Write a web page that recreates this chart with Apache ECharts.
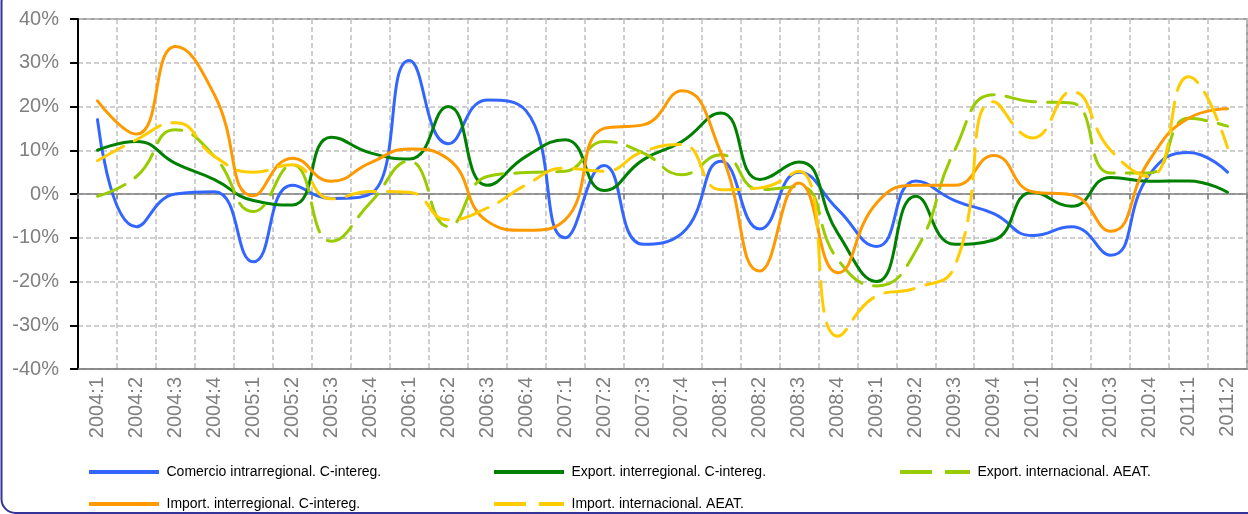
<!DOCTYPE html>
<html>
<head>
<meta charset="utf-8">
<script src="https://cdn.jsdelivr.net/npm/echarts@6/dist/echarts.min.js"></script>
<style>
html,body{margin:0;padding:0;background:#fff;}
#chart{width:1248px;height:514px;}
</style>
</head>
<body>
<div id="chart"></div>
<script>
var categories = ['2004:1','2004:2','2004:3','2004:4','2005:1','2005:2','2005:3','2005:4',
  '2006:1','2006:2','2006:3','2006:4','2007:1','2007:2','2007:3','2007:4',
  '2008:1','2008:2','2008:3','2008:4','2009:1','2009:2','2009:3','2009:4',
  '2010:1','2010:2','2010:3','2010:4','2011:1','2011:2'];

var comercioIntra = [17, -7.5, 0, 0.5, -15.5, 2, -1, 0, 30.5, 11.5, 21.5, 19, -10, 6.5, -11.5, -9, 7.5, -8, 5, -3.5, -12, 3, -1.5, -4.5, -9.5, -7.5, -14, 4.5, 9.5, 5];
var exportInter = [10, 12, 7, 3.3, -1.5, -2.5, 13, 9.4, 8, 20, 2, 8.6, 12.4, 0.8, 7.8, 12, 18.5, 3.3, 7.3, -9, -20, -0.5, -11.5, -10.5, 0.4, -2.8, 3.8, 2.9, 3, 0.4];
var exportIntl = [-0.5, 4, 14.7, 8.6, -4, 6.7, -10.8, -2, 7.5, -7.4, 4, 4.9, 5.2, 12, 9.4, 4.4, 9, 1, 1.7, -15, -21, -13, 10, 22.7, 21.1, 20.8, 4.8, 4.8, 17.3, 15.5];
var importInter = [21.3, 13.7, 33.7, 22.7, -0.4, 8.2, 2.9, 7.1, 10.3, 8, -6.2, -8.3, -5.9, 15, 15.8, 23.6, 9.4, -17.6, 2.5, -18, -2, 2, 2, 8.8, 0.5, -0.2, -8.5, 7.8, 17.3, 19.5];
var importIntl = [7.6, 12.4, 16.3, 8.6, 5, 6.7, -1.1, 0.6, 0.4, -5.9, -3.2, 2.1, 5.9, 5.2, 9.7, 11.3, 1, 1.4, 5.2, -32.5, -23.3, -21.5, -16.5, 21.1, 12.8, 23.4, 10, 4, 26.8, 10.6];

var seriesNames = ['Comercio intrarregional. C-intereg.', 'Export. interregional. C-intereg.',
  'Export. internacional. AEAT.', 'Import. interregional. C-intereg.', 'Import. internacional. AEAT.'];
var seriesData = [comercioIntra, exportInter, exportIntl, importInter, importIntl];
var seriesColors = ['#3366FF', '#008000', '#99CC00', '#FF9900', '#FFCC00'];
var seriesDashed = [false, false, true, false, true];

var chart = echarts.init(document.getElementById('chart'), null, {renderer: 'canvas'});

var series = seriesNames.map(function (n, i) {
  return {
    name: n,
    type: 'line',
    data: seriesData[i],
    smooth: 0.5,
    symbol: 'none',
    lineStyle: {
      color: seriesColors[i],
      width: 3,
      type: seriesDashed[i] ? [30, 12] : 'solid',
      cap: 'round'
    },
    itemStyle: {color: seriesColors[i]},
    z: 3 + i
  };
});

var solidIcon = 'path://M0,0L70,0L70,4L0,4Z';
var dashedIcon = 'path://M0,0L32,0L32,4L0,4ZM45,0L70,0L70,4L45,4Z';

var legendPos = [
  {left: 89, top: 465},
  {left: 494, top: 465},
  {left: 900, top: 465},
  {left: 89, top: 497},
  {left: 494, top: 497}
];
var legends = seriesNames.map(function (n, i) {
  return {
    data: [{name: n, icon: seriesDashed[i] ? dashedIcon : solidIcon}],
    left: legendPos[i].left,
    top: legendPos[i].top,
    orient: 'horizontal',
    itemWidth: 71,
    itemHeight: 4,
    selectedMode: false,
    padding: 0,
    itemStyle: {color: seriesColors[i], borderWidth: 0},
    textStyle: {fontFamily: 'Liberation Sans, Arial', fontSize: 14, color: '#000000', padding: [0, 0, 0, 2]}
  };
});

var option = {
  animation: false,
  backgroundColor: '#ffffff',
  legend: legends,
  grid: {
    left: 78, right: 1, top: 19, bottom: 145,
    show: true, borderColor: '#808080', borderWidth: 1.5, backgroundColor: 'transparent'
  },
  xAxis: [
    {
      type: 'category',
      data: categories,
      boundaryGap: true,
      position: 'bottom',
      axisLine: {onZero: false, lineStyle: {color: '#808080', width: 1.5}},
      axisTick: {show: false},
      axisLabel: {
        rotate: 90, interval: 0, margin: 8,
        color: '#808080', fontSize: 20, fontFamily: 'Liberation Sans, Arial'
      },
      splitLine: {show: true, interval: 0, lineStyle: {color: '#C0C0C0', width: 1.5, type: [5, 3]}}
    },
    {
      type: 'category',
      data: categories,
      boundaryGap: true,
      position: 'top',
      axisLine: {onZero: true, lineStyle: {color: '#808080', width: 1.5}},
      axisTick: {show: true, inside: true, length: 5, interval: 0, lineStyle: {color: '#808080', width: 1.5}},
      axisLabel: {show: false},
      splitLine: {show: false}
    }
  ],
  yAxis: {
    type: 'value',
    min: -40, max: 40, interval: 10,
    axisLine: {show: true, lineStyle: {color: '#000000', width: 2}},
    axisTick: {show: true, length: 8, lineStyle: {color: '#000000', width: 2}},
    axisLabel: {
      formatter: '{value}%', margin: 19,
      color: '#808080', fontSize: 20, fontFamily: 'Liberation Sans, Arial'
    },
    splitLine: {show: true, lineStyle: {color: '#C0C0C0', width: 1.5, type: [5, 3]}}
  },
  graphic: [
    {
      type: 'rect',
      silent: true,
      z: 100,
      shape: {x: 1.5, y: -12, width: 1400, height: 525, r: 14},
      style: {fill: 'none', stroke: '#333399', lineWidth: 2}
    }
  ],
  series: series
};

chart.setOption(option);
</script>
</body>
</html>
